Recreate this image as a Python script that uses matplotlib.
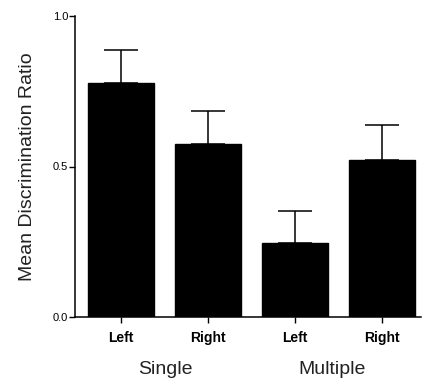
import matplotlib
matplotlib.use("Agg")
import matplotlib.pyplot as plt

# data
conditions = ["Left", "Right", "Left", "Right"]
groups = ["Single", "Multiple"]
means = [0.777, 0.576, 0.246, 0.523]
sems = [0.110, 0.107, 0.106, 0.114]

plt.rcParams["font.family"] = ["Liberation Sans", "DejaVu Sans"]

fig = plt.figure(figsize=(4.22, 3.84), dpi=100)
ax = fig.add_axes([75 / 422, 67 / 384, 346 / 422, 301 / 384])

xs = list(range(len(means)))
ax.bar(xs, means, width=0.75, color="black", edgecolor="black", zorder=2)
ax.errorbar(xs, means, yerr=[[0] * len(sems), sems], fmt="none",
            ecolor="black", elinewidth=1.1, capsize=12, capthick=1.1, zorder=1)

ax.set_xlim(-0.529, 3.448)
ax.set_ylim(0, 1.0)
ax.set_yticks([0.0, 0.5, 1.0])
ax.set_yticklabels(["0.0", "0.5", "1.0"], fontsize=8)
ax.set_xticks(xs)
ax.set_xticklabels(conditions, fontsize=10, fontweight="bold")
ax.tick_params(axis="y", length=4, width=1, pad=1)
ax.tick_params(axis="x", length=4, width=1, pad=6)
for s in ("top", "right"):
    ax.spines[s].set_visible(False)
for s in ("left", "bottom"):
    ax.spines[s].set_linewidth(1.1)

ax.set_ylabel("Mean Discrimination Ratio", fontsize=14, color="#222222", labelpad=12)

fig.text(165 / 422, 1 - 369 / 384, groups[0], fontsize=14, color="#222222",
         ha="center", va="center")
fig.text(332 / 422, 1 - 369 / 384, groups[1], fontsize=14, color="#222222",
         ha="center", va="center")

fig.savefig("out.png", dpi=100)
